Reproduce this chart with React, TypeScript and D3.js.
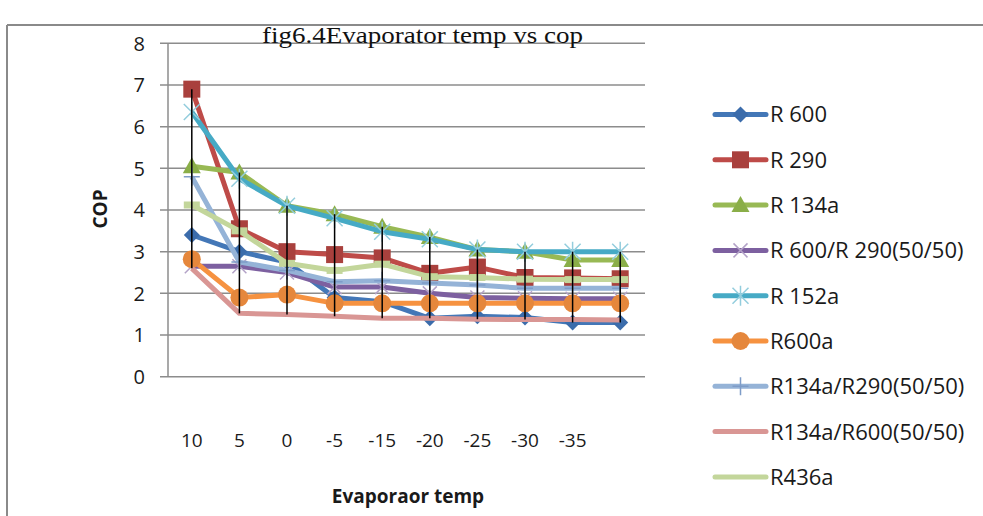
import * as d3 from 'd3';

const categories = ['10', '5', '0', '-5', '-15', '-20', '-25', '-30', '-35', ''];
const yTicks = [0, 1, 2, 3, 4, 5, 6, 7, 8];

const r600 = [3.4, 3.0, 2.75, 1.9, 1.8, 1.4, 1.45, 1.42, 1.3, 1.3];
const r290 = [6.9, 3.55, 3.0, 2.93, 2.85, 2.48, 2.63, 2.38, 2.37, 2.35];
const r134a = [5.05, 4.9, 4.1, 3.9, 3.6, 3.35, 3.05, 3.0, 2.8, 2.8];
const r600r290 = [2.65, 2.65, 2.5, 2.15, 2.15, 2.0, 1.9, 1.88, 1.87, 1.87];
const r152a = [6.35, 4.75, 4.1, 3.8, 3.48, 3.3, 3.05, 3.0, 3.0, 3.0];
const r600a = [2.82, 1.9, 1.97, 1.76, 1.76, 1.76, 1.76, 1.76, 1.76, 1.76];
const r134aR290 = [4.8, 2.75, 2.55, 2.28, 2.3, 2.25, 2.2, 2.12, 2.12, 2.12];
const r134aR600 = [2.6, 1.52, 1.49, 1.45, 1.4, 1.4, 1.38, 1.37, 1.37, 1.36];
const r436a = [4.12, 3.5, 2.72, 2.55, 2.7, 2.4, 2.38, 2.34, 2.33, 2.33];

type Marker = 'diamond' | 'square' | 'triangle' | 'x' | 'star' | 'circle' | 'plus' | 'none' | 'dash';

const series: { name: string; values: number[]; color: string; marker: Marker; mfill: string }[] = [
  { name: 'R 600', values: r600, color: '#4377B7', marker: 'diamond', mfill: '#3B6CAB' },
  { name: 'R 290', values: r290, color: '#BE4B48', marker: 'square', mfill: '#A9403D' },
  { name: 'R 134a', values: r134a, color: '#98B954', marker: 'triangle', mfill: '#8AAE48' },
  { name: 'R 600/R 290(50/50)', values: r600r290, color: '#7D60A0', marker: 'x', mfill: '#B3A2C7' },
  { name: 'R 152a', values: r152a, color: '#46AAC5', marker: 'star', mfill: '#93CDDD' },
  { name: 'R600a', values: r600a, color: '#F69240', marker: 'circle', mfill: '#E5873C' },
  { name: 'R134a/R290(50/50)', values: r134aR290, color: '#95B3D7', marker: 'plus', mfill: '#95B3D7' },
  { name: 'R134a/R600(50/50)', values: r134aR600, color: '#D99694', marker: 'none', mfill: '#D99694' },
  { name: 'R436a', values: r436a, color: '#C3D69B', marker: 'dash', mfill: '#C3D69B' },
];

const PLOT = { left: 168, right: 644, top: 43.3, bottom: 376.7 };
const LEGEND = { lineX1: 715, lineX2: 766, textX: 770, y0: 114.5, step: 45.3 };

function MarkerShape({ type, cx, cy, fill }: { type: Marker; cx: number; cy: number; fill: string }) {
  switch (type) {
    case 'diamond':
      return <path d={`M${cx},${cy - 8}L${cx + 8},${cy}L${cx},${cy + 8}L${cx - 8},${cy}Z`} fill={fill} />;
    case 'square':
      return <rect x={cx - 8.5} y={cy - 8.5} width={17} height={17} fill={fill} />;
    case 'triangle':
      return <path d={`M${cx},${cy - 9}L${cx + 9},${cy + 7}L${cx - 9},${cy + 7}Z`} fill={fill} />;
    case 'circle':
      return <circle cx={cx} cy={cy} r={9} fill={fill} />;
    case 'x':
      return (
        <path d={`M${cx - 7},${cy - 7}L${cx + 7},${cy + 7}M${cx - 7},${cy + 7}L${cx + 7},${cy - 7}`}
          stroke={fill} strokeWidth={1.5} />
      );
    case 'star':
      return (
        <path d={`M${cx - 8},${cy - 8}L${cx + 8},${cy + 8}M${cx - 8},${cy + 8}L${cx + 8},${cy - 8}M${cx},${cy - 10}L${cx},${cy + 10}`}
          stroke={fill} strokeWidth={1.5} />
      );
    case 'plus':
      return (
        <path d={`M${cx - 8},${cy}L${cx + 8},${cy}M${cx},${cy - 9}L${cx},${cy + 9}`}
          stroke="#7E9CC8" strokeWidth={1.5} />
      );
    case 'dash':
      return <rect x={cx - 8} y={cy - 3.5} width={16} height={7} fill={fill} />;
    default:
      return null;
  }
}

export default function App() {
  const x = d3.scaleBand<number>()
    .domain(d3.range(categories.length))
    .range([PLOT.left, PLOT.right]);
  const cx = (i: number) => (x(i) ?? 0) + x.bandwidth() / 2;
  const y = d3.scaleLinear().domain([0, 8]).range([PLOT.bottom, PLOT.top]);

  const line = d3.line<number>()
    .x((_, i) => cx(i))
    .y((d) => y(d));

  // high-low lines span all series at each category
  const highLow = categories.map((_, i) => {
    const vals = series.map((s) => s.values[i]);
    return { i, lo: d3.min(vals)!, hi: d3.max(vals)! };
  });

  const sans = "'Open Sans', 'Liberation Sans', sans-serif";

  return (
    <svg width={983} height={516} style={{ display: 'block', position: 'absolute', left: 0, top: 0 }}>
      <rect x={0} y={0} width={983} height={516} fill="#fff" />
      {/* outer frame */}
      <line x1={7} x2={983} y1={25} y2={25} stroke="#8a8a8a" strokeWidth={2} />
      <line x1={7} x2={7} y1={25} y2={516} stroke="#8a8a8a" strokeWidth={2} />

      {/* gridlines */}
      {yTicks.map((t) => (
        <line key={t} x1={PLOT.left - 8} x2={PLOT.right + 1} y1={y(t)} y2={y(t)} stroke="#8c8c8c" strokeWidth={1.5} />
      ))}
      <line x1={PLOT.left} x2={PLOT.left} y1={PLOT.top} y2={PLOT.bottom} stroke="#8c8c8c" strokeWidth={1.5} />

      {/* y tick labels */}
      {yTicks.map((t) => (
        <text key={t} x={145} y={y(t)} dy="0.36em" textAnchor="end" fontFamily={sans} fontSize={20} fill="#1a1a1a">
          {t}
        </text>
      ))}

      {/* x tick labels */}
      {categories.map((c, i) => (
        <text key={i} x={cx(i)} y={440} dy="0.36em" textAnchor="middle" fontFamily={sans} fontSize={19} fill="#1a1a1a">
          {c}
        </text>
      ))}

      {/* axis titles */}
      <text x={408} y={496} dy="0.36em" textAnchor="middle" fontFamily={sans} fontSize={19} fontWeight="bold" fill="#1a1a1a">
        Evaporaor temp
      </text>
      <text transform="translate(100,209) rotate(-90)" dy="0.36em" textAnchor="middle" fontFamily={sans} fontSize={19}
        fontWeight="bold" fill="#1a1a1a">
        COP
      </text>

      {/* title */}
      <text x={262} y={43} fontFamily="'Liberation Serif', 'Times New Roman', serif" fontSize={24} textLength={321}
        lengthAdjust="spacingAndGlyphs" fill="#111">
        fig6.4Evaporator temp vs cop
      </text>

      {/* series */}
      {series.map((s) => (
        <g key={s.name}>
          <path d={line(s.values) ?? ''} fill="none" stroke={s.color} strokeWidth={5} strokeLinejoin="round" />
          {s.values.map((v, i) => (
            <MarkerShape key={i} type={s.marker} cx={cx(i)} cy={y(v)} fill={s.mfill} />
          ))}
        </g>
      ))}

      {/* high-low lines */}
      {highLow.map((d) => (
        <line key={d.i} x1={cx(d.i)} x2={cx(d.i)} y1={y(d.hi)} y2={y(d.lo)} stroke="#000" strokeWidth={1.5} />
      ))}

      {/* legend */}
      {series.map((s, k) => {
        const ly = LEGEND.y0 + k * LEGEND.step;
        const mx = (LEGEND.lineX1 + LEGEND.lineX2) / 2;
        return (
          <g key={s.name}>
            <line x1={LEGEND.lineX1} x2={LEGEND.lineX2} y1={ly} y2={ly} stroke={s.color} strokeWidth={5} strokeLinecap="round" />
            {s.marker !== 'dash' && <MarkerShape type={s.marker} cx={mx} cy={ly} fill={s.mfill} />}
            <text x={LEGEND.textX} y={ly} dy="0.36em" fontFamily={sans} fontSize={22} fill="#1a1a1a">
              {s.name}
            </text>
          </g>
        );
      })}
    </svg>
  );
}
